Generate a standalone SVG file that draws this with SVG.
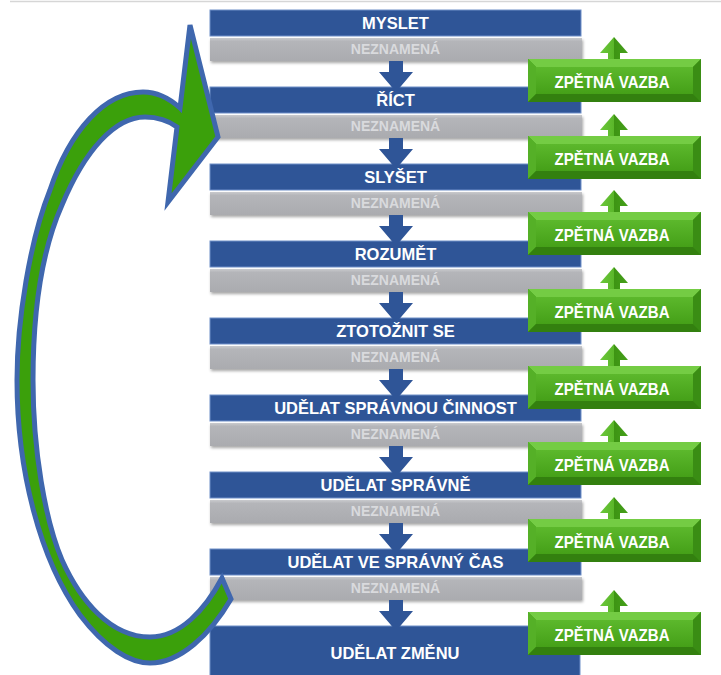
<svg xmlns="http://www.w3.org/2000/svg" xmlns:xlink="http://www.w3.org/1999/xlink" width="721" height="675" viewBox="0 0 721 675">
<style>
.blue{fill:#2f5597;stroke:#6f8fc8;stroke-width:1}
.gray{fill:url(#gGray)}
.bt{font-family:"Liberation Sans",Arial,sans-serif;font-weight:bold;font-size:16.5px;fill:#ffffff;text-anchor:middle}
.gt{font-family:"Liberation Sans",Arial,sans-serif;font-weight:bold;font-size:14px;fill:#d9dadd;text-anchor:middle}
.ft{font-family:"Liberation Sans",Arial,sans-serif;font-weight:bold;font-size:17px;fill:#ffffff;text-anchor:middle}
.dn{fill:#2f5597}
</style>
<defs>
<linearGradient id="gGray" x1="0" y1="0" x2="0" y2="1">
<stop offset="0" stop-color="#c9cacd"/><stop offset="0.15" stop-color="#b4b5b9"/><stop offset="1" stop-color="#aaabaf"/>
</linearGradient>
<linearGradient id="gFace" x1="0" y1="0" x2="0" y2="1">
<stop offset="0" stop-color="#5cb82c"/><stop offset="1" stop-color="#45a018"/>
</linearGradient>
<linearGradient id="gUp" x1="0" y1="0" x2="1" y2="0">
<stop offset="0" stop-color="#6cc83a"/><stop offset="0.5" stop-color="#5ab62a"/><stop offset="0.5" stop-color="#3d9413"/><stop offset="1" stop-color="#45a01a"/>
</linearGradient>
<filter id="sh" x="-5%" y="-20%" width="110%" height="150%">
<feDropShadow dx="1" dy="2" stdDeviation="1.5" flood-color="#000" flood-opacity="0.35"/>
</filter>
<g id="fb">
<path d="M86,-22 L100,-6 L92,-6 L92,0 L80,0 L80,-6 L72,-6 Z" fill="url(#gUp)"/>
<rect x="0" y="0" width="173" height="43" fill="#3f9816"/>
<polygon points="0,0 173,0 165,8 8,8" fill="#74cc44"/>
<polygon points="0,0 8,8 8,35 0,43" fill="#55b027"/>
<polygon points="173,0 165,8 165,35 173,43" fill="#3a8d14"/>
<polygon points="0,43 8,35 165,35 173,43" fill="#33800f"/>
<rect x="8" y="8" width="157" height="27" fill="url(#gFace)"/>
</g>
<path id="dnA" class="dn" d="M-7,0 L7,0 L7,11 L17,11 L0,31 L-17,11 L-7,11 Z"/>
</defs>

<line x1="10" y1="1.5" x2="721" y2="1.5" stroke="#d6d6d6" stroke-width="1.5"/>

<g id="steps">
<g id="s1"><rect class="blue" x="210" y="10" width="371" height="26"/><text class="bt" x="395.5" y="29">MYSLET</text><rect class="gray" x="210" y="38" width="372" height="23" filter="url(#sh)"/><text class="gt" x="395.5" y="54">NEZNAMENÁ</text></g>
<g id="s2"><rect class="blue" x="210" y="87" width="371" height="26"/><text class="bt" x="395.5" y="106">ŘÍCT</text><rect class="gray" x="210" y="115" width="372" height="23" filter="url(#sh)"/><text class="gt" x="395.5" y="131">NEZNAMENÁ</text></g>
<g id="s3"><rect class="blue" x="210" y="164" width="371" height="26"/><text class="bt" x="395.5" y="183">SLYŠET</text><rect class="gray" x="210" y="192" width="372" height="23" filter="url(#sh)"/><text class="gt" x="395.5" y="208">NEZNAMENÁ</text></g>
<g id="s4"><rect class="blue" x="210" y="241" width="371" height="26"/><text class="bt" x="395.5" y="260">ROZUMĚT</text><rect class="gray" x="210" y="269" width="372" height="23" filter="url(#sh)"/><text class="gt" x="395.5" y="285">NEZNAMENÁ</text></g>
<g id="s5"><rect class="blue" x="210" y="318" width="371" height="26"/><text class="bt" x="395.5" y="337">ZTOTOŽNIT SE</text><rect class="gray" x="210" y="346" width="372" height="23" filter="url(#sh)"/><text class="gt" x="395.5" y="362">NEZNAMENÁ</text></g>
<g id="s6"><rect class="blue" x="210" y="395" width="371" height="26"/><text class="bt" x="395.5" y="414">UDĚLAT SPRÁVNOU ČINNOST</text><rect class="gray" x="210" y="423" width="372" height="23" filter="url(#sh)"/><text class="gt" x="395.5" y="439">NEZNAMENÁ</text></g>
<g id="s7"><rect class="blue" x="210" y="472" width="371" height="26"/><text class="bt" x="395.5" y="491">UDĚLAT SPRÁVNĚ</text><rect class="gray" x="210" y="500" width="372" height="23" filter="url(#sh)"/><text class="gt" x="395.5" y="516">NEZNAMENÁ</text></g>
<g id="s8"><rect class="blue" x="210" y="549" width="371" height="26"/><text class="bt" x="395.5" y="568">UDĚLAT VE SPRÁVNÝ ČAS</text><rect class="gray" x="210" y="577" width="372" height="23" filter="url(#sh)"/><text class="gt" x="395.5" y="593">NEZNAMENÁ</text></g>
<g id="s9"><rect class="blue" x="210" y="626" width="370" height="52"/><text class="bt" x="395" y="659">UDĚLAT ZMĚNU</text></g>
</g>

<g id="connectors">
<use xlink:href="#dnA" x="396" y="61"/>
<use xlink:href="#dnA" x="396" y="138"/>
<use xlink:href="#dnA" x="396" y="215"/>
<use xlink:href="#dnA" x="396" y="292"/>
<use xlink:href="#dnA" x="396" y="369"/>
<use xlink:href="#dnA" x="396" y="446"/>
<use xlink:href="#dnA" x="396" y="523"/>
<use xlink:href="#dnA" x="396" y="600"/>
<path id="loop" d="M190,25 L218,137 L168,202 L177,127 C169,121 158,117 145,117 C115,117 85,150 62,205 C42,250 33,310 33,380 C33,450 45,520 62,560 C80,600 110,637 150,637 C180,637 205,610 222,578 L231,599 C210,635 180,663 150,663 C130,663 105,648 80,615 C40,560 17,470 17,380 C17,320 30,240 50,190 C70,130 105,92 143,92 C155,92 168,97 180,108 Z" fill="#3ba00b" stroke="#3f67ae" stroke-width="5" stroke-linejoin="miter"/>
</g>

<g id="feedback">
<g id="f1"><use xlink:href="#fb" x="528" y="59"/><text class="ft" x="612" y="88" textLength="115" lengthAdjust="spacingAndGlyphs">ZPĚTNÁ VAZBA</text></g>
<g id="f2"><use xlink:href="#fb" x="528" y="136"/><text class="ft" x="612" y="165" textLength="115" lengthAdjust="spacingAndGlyphs">ZPĚTNÁ VAZBA</text></g>
<g id="f3"><use xlink:href="#fb" x="528" y="212"/><text class="ft" x="612" y="241" textLength="115" lengthAdjust="spacingAndGlyphs">ZPĚTNÁ VAZBA</text></g>
<g id="f4"><use xlink:href="#fb" x="528" y="289"/><text class="ft" x="612" y="318" textLength="115" lengthAdjust="spacingAndGlyphs">ZPĚTNÁ VAZBA</text></g>
<g id="f5"><use xlink:href="#fb" x="528" y="366"/><text class="ft" x="612" y="395" textLength="115" lengthAdjust="spacingAndGlyphs">ZPĚTNÁ VAZBA</text></g>
<g id="f6"><use xlink:href="#fb" x="528" y="442"/><text class="ft" x="612" y="471" textLength="115" lengthAdjust="spacingAndGlyphs">ZPĚTNÁ VAZBA</text></g>
<g id="f7"><use xlink:href="#fb" x="528" y="519"/><text class="ft" x="612" y="548" textLength="115" lengthAdjust="spacingAndGlyphs">ZPĚTNÁ VAZBA</text></g>
<g id="f8"><use xlink:href="#fb" x="528" y="612"/><text class="ft" x="612" y="641" textLength="115" lengthAdjust="spacingAndGlyphs">ZPĚTNÁ VAZBA</text></g>
</g>
</svg>
